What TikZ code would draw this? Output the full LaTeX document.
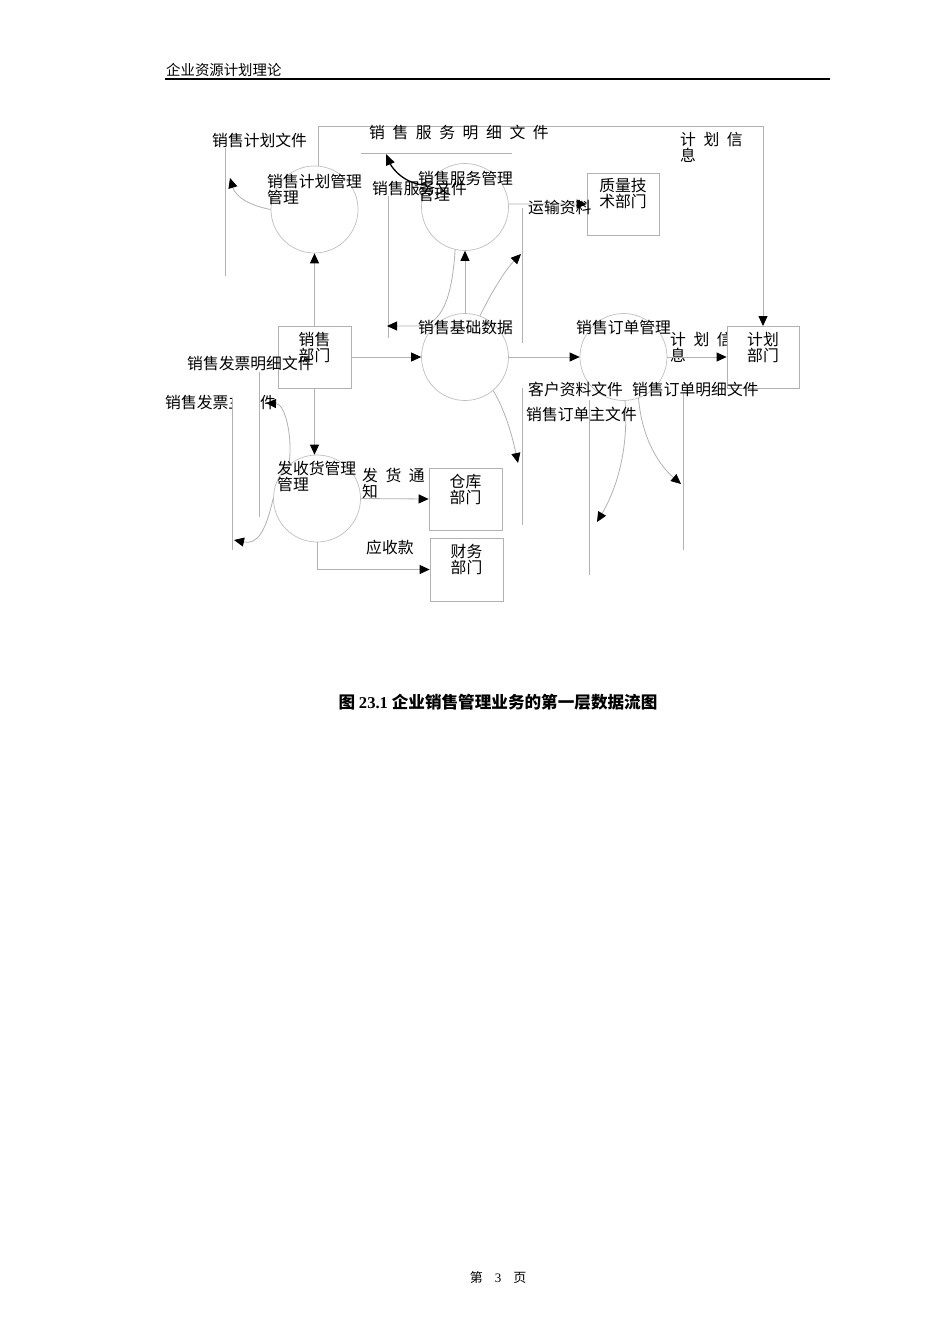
\documentclass[tikz,border=0pt]{standalone}
\usepackage{fontspec}
\setmainfont{Liberation Serif}
\newfontfamily\cjk{Noto Sans CJK SC}
\newfontfamily\cjkwide[LetterSpace=48]{Noto Sans CJK SC}
\usetikzlibrary{arrows.meta,positioning}

\tikzset{
  flow/.style={draw=gray!60, line width=0.8pt},
  arr/.style={flow, -{Triangle[length=10pt,width=9pt,color=black]}},
  blackarr/.style={draw=black, line width=1.3pt, -{Triangle[length=11pt,width=9pt]}},
  store/.style={draw=gray!60, line width=0.8pt},
  proc/.style={circle, draw=gray!50, line width=0.7pt, minimum size=87pt, inner sep=0pt},
  dept/.style={draw=gray!60, line width=0.8pt, fill=white, minimum width=73pt, minimum height=62pt, inner sep=0pt},
  lbl/.style={font=\cjk\fontsize{15.8}{16}\selectfont, inner sep=0pt, anchor=west},
  twolbl/.style={font=\cjk\fontsize{15.8}{16}\selectfont, inner sep=0pt, anchor=north west, align=left},
  widelbl/.style={font=\cjkwide\fontsize{15.8}{16}\selectfont, inner sep=0pt, anchor=north west, align=left},
  boxtxt/.style={font=\cjk\fontsize{15.8}{16}\selectfont, inner sep=0pt, align=center, anchor=north},
}

\begin{document}
\begin{tikzpicture}[x=1pt, y=-1pt]
    \fill[white] (0,0) rectangle (950,1344);
    \useasboundingbox (0,0) rectangle (950,1344);

    % Page header
    \node[font=\cjk\fontsize{14.4}{15}\selectfont, inner sep=0pt, anchor=west] (hdr) at (166,70) {企业资源计划理论};
    \draw[line width=2pt] (165,78.5) -- (830,78.5);

    % Processes
    \node[proc] (plan) at (314.5,209.5) {};
    \node[proc] (serv) at (465,207) {};
    \node[proc] (base) at (465,357) {};
    \node[proc] (order) at (623.5,357) {};
    \node[proc] (ship) at (317,498.5) {};

    % Departments (placed early, drawn later)
    \coordinate (salesc) at (314.5,357);
    \coordinate (plandepc) at (763,357);

    % Data stores (open lines)
    \draw[store] (225,148) -- (225,276);
    \draw[store] (361,153) -- (512,153);
    \draw[store] (388,196) -- (388,338);
    \draw[store] (522,208) -- (522,343);
    \draw[store] (522,388) -- (522,525);
    \draw[store] (589,400) -- (589,575);
    \draw[store] (683,393) -- (683,550);

    % Flows around the planning process
    \draw[arr] (plan.85) -- ++(0,-39) -| (plandepc |- 0,326);
    \draw[arr] (salesc |- 0,326) -- (plan.south);
    \draw[arr] (plan.west) .. controls (252,206) and (236,198) .. (230,178);

    % Flows around the service process
    \draw[blackarr] (serv.150) .. controls +(-22,0) and +(6,14) .. (386,154);
    \draw[arr] (serv.-103) .. controls (452,298) and (442,325) .. (418,326) -- (387,326);
    \draw[arr] (base.north) -- (serv.south);
    \draw[arr] (base.70) .. controls (490,295) and (505,270) .. (521,254);

    % Flows around the base data
    \draw[arr] (base.-50) .. controls (505,410) and (512,435) .. (518,463);
    \draw[arr] (base.east) -- (order.west);

    % Flows around the order process
    \draw[arr] (order.-88) .. controls (629,450) and (616,490) .. (597,522);
    \draw[arr] (order.-70) .. controls (642,440) and (660,466) .. (681,484);

    % Labels partly hidden behind boxes
    \node[widelbl] (orderinfo) at (670,332) {计划信\\息};
    \node[lbl] (invmain) at (165,402) {销售发票主文件};
    \fill[white] (233,392) rectangle (260,412);
    \draw[store] (232,398) -- (232,550);
    \draw[store] (259,372) -- (259,517);

    % Department boxes
    \node[dept] (sales) at (salesc) {};
    \node[dept, minimum width=72pt] (qual) at (623,204) {};
    \node[dept, minimum width=72pt] (plandep) at (plandepc) {};
    \node[dept] (store) at (465.5,499) {};
    \node[dept, minimum height=63pt] (fin) at (466.5,569.5) {};

    \node[boxtxt, below=6pt of sales.north] (salest) {销售\\部门};
    \node[boxtxt, below=5pt of qual.north] (qualt) {质量技\\术部门};
    \node[boxtxt, below=6pt of plandep.north] (plandept) {计划\\部门};
    \node[boxtxt, below=6pt of store.north] (storet) {仓库\\部门};
    \node[boxtxt, below=6pt of fin.north] (fint) {财务\\部门};

    % Flows that reach the boxes
    \draw[arr] (serv.4) -- (qual.west);
    \draw[arr] (sales.east) -- (base.west);
    \draw[arr] (order.east) -- (plandep.west);
    \draw[arr] (sales.south) -- (sales.south |- ship.north);
    \draw[arr] (ship.east) -- (store.west);
    \draw[arr] (ship.south) |- (fin.west);
    \draw[arr] (ship.west) .. controls (266,530) and (258,545) .. (234,540);
    \draw[arr] (ship.130) .. controls (293,440) and (286,404) .. (266,403);

    % Process names
    \node[twolbl] (plant) at (267,174) {销售计划管理\\管理};
    \node[twolbl] (servt) at (418,171) {销售服务管理\\管理};
    \node[lbl] (baset) at (418,327) {销售基础数据};
    \node[lbl] (ordert) at (576,327) {销售订单管理};
    \node[twolbl] (shipt) at (277,461) {发收货管理\\管理};

    % Flow and store names
    \node[lbl] (planfile) at (212,140) {销售计划文件};
    \node[widelbl] (servdet) at (369,125) {销售服务明细文件};
    \node[widelbl] (planinfo) at (680,132) {计划信\\息};
    \node[lbl] (servfile) at (372,188) {销售服务文件};
    \node[lbl] (transp) at (528,208) {运输资料};
    \node[lbl] (invdet) at (187,363) {销售发票明细文件};
    \node[lbl] (custfile) at (528,389) {客户资料文件};
    \node[lbl] (orddet) at (632,389) {销售订单明细文件};
    \node[lbl] (ordmain) at (526,414) {销售订单主文件};
    \node[widelbl] (shipnote) at (362,468) {发货通\\知};
    \node[lbl] (recv) at (366,547) {应收款};

    % Caption and page number
    \node[font=\cjk\bfseries\fontsize{16.6}{18}\selectfont, inner sep=0pt] (cap) at (498,702) {图 {\rmfamily\bfseries 23.1} 企业销售管理业务的第一层数据流图};
    \node[font=\cjk\fontsize{13}{14}\selectfont, inner sep=0pt] (pgno) at (498,1278) {第\hspace{12pt}{\rmfamily 3}\hspace{12pt}页};
\end{tikzpicture}
\end{document}
